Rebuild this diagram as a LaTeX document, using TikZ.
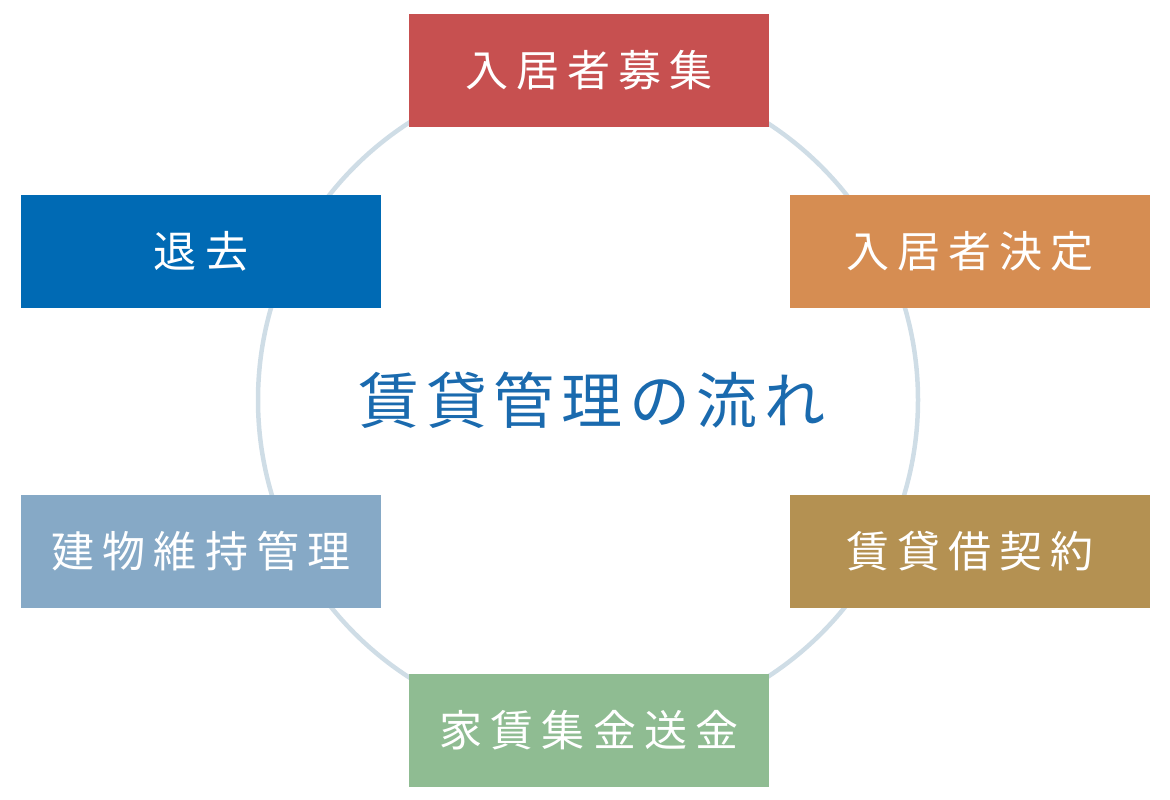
\documentclass[tikz,border=0pt]{standalone}
\usepackage{fontspec}
\newfontfamily\cjkbox[LetterSpace=19]{Noto Sans CJK JP}
\newfontfamily\cjktitle[LetterSpace=11]{Noto Sans CJK JP}
\definecolor{cred}{HTML}{C75050}
\definecolor{corange}{HTML}{D68D52}
\definecolor{cgold}{HTML}{B49152}
\definecolor{cgreen}{HTML}{8FBC92}
\definecolor{csteel}{HTML}{86A9C6}
\definecolor{cblue}{HTML}{006AB4}
\definecolor{cring}{HTML}{CFDDE6}
\definecolor{ctitle}{HTML}{1A6AAE}
\tikzset{
  stepbox/.style={rectangle, inner sep=0pt, minimum width=360pt, minimum height=113pt,
    text=white, font=\cjkbox\fontsize{43pt}{46pt}\selectfont},
  ring/.style={draw=cring, line width=4.5pt},
  title/.style={text=ctitle, font=\cjktitle\fontsize{61pt}{64pt}\selectfont}
}
\begin{document}
\begin{tikzpicture}[x=1pt,y=-1pt]
\useasboundingbox (0,0) rectangle (1170,800);
\coordinate (c) at (588,400);
\draw[ring] (c) circle[radius=330pt];
\node[title] (t) at (592,400) {賃貸管理の流れ};
\node[stepbox, fill=cred] (s1) at (589,70.5) {入居者募集};
\node[stepbox, fill=corange] (s2) at (970,251.5) {入居者決定};
\node[stepbox, fill=cgold] (s3) at (970,551.5) {賃貸借契約};
\node[stepbox, fill=cgreen] (s4) at (589,730.5) {家賃集金送金};
\node[stepbox, fill=csteel] (s5) at (201,551.5) {建物維持管理};
\node[stepbox, fill=cblue] (s6) at (201,251.5) {退去};
\end{tikzpicture}
\end{document}
